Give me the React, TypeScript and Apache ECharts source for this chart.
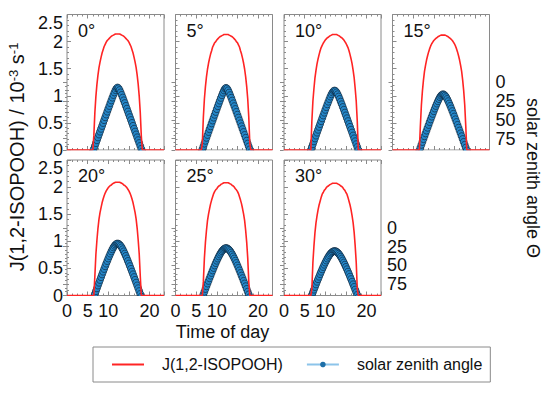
import React, { useEffect, useRef } from 'react';
import * as echarts from 'echarts';

const FONT = '"Liberation Sans", Arial, Helvetica, sans-serif';
const AXIS_GRAY = '#8a8a8a';
const RED = '#ff2424';
const BLUE = '#2587c9';

const J_NAME = 'J(1,2-ISOPOOH)';
const SZA_NAME = 'solar zenith angle';

const PANEL_LABELS = ['0°', '5°', '10°', '15°', '20°', '25°', '30°'];
const X_TICK_LABELS = [0, 5, 10, 20];

const J_HOURS = [0, 6, 6.25, 6.5, 6.75, 7, 7.25, 7.5, 7.75, 8, 8.25, 8.5, 8.75, 9, 9.25, 9.5, 9.75, 10, 10.25, 10.5, 10.75, 11, 11.25, 11.5, 11.75, 12, 12.25, 12.5, 12.75, 13, 13.25, 13.5, 13.75, 14, 14.25, 14.5, 14.75, 15, 15.25, 15.5, 15.75, 16, 16.25, 16.5, 16.75, 17, 17.25, 17.5, 17.75, 18, 18.25, 18.5, 23.5];
const HOURS = [6, 6.25, 6.5, 6.75, 7, 7.25, 7.5, 7.75, 8, 8.25, 8.5, 8.75, 9, 9.25, 9.5, 9.75, 10, 10.25, 10.5, 10.75, 11, 11.25, 11.5, 11.75, 12, 12.25, 12.5, 12.75, 13, 13.25, 13.5, 13.75, 14, 14.25, 14.5, 14.75, 15, 15.25, 15.5, 15.75, 16, 16.25, 16.5, 16.75, 17, 17.25, 17.5, 17.75, 18, 18.25, 18.5];

// J(1,2-ISOPOOH) in 10^-3 s^-1
const J_0 = [0, 0, 0, 0.26, 0.69, 0.99, 1.21, 1.38, 1.52, 1.62, 1.71, 1.79, 1.85, 1.91, 1.95, 1.99, 2.02, 2.04, 2.06, 2.08, 2.10, 2.11, 2.12, 2.13, 2.14, 2.14, 2.14, 2.14, 2.14, 2.13, 2.12, 2.11, 2.10, 2.08, 2.06, 2.04, 2.02, 1.99, 1.95, 1.91, 1.85, 1.79, 1.71, 1.62, 1.52, 1.38, 1.21, 0.99, 0.69, 0.26, 0, 0, 0];
const J_5 = [0, 0, 0, 0.12, 0.61, 0.94, 1.17, 1.35, 1.49, 1.60, 1.69, 1.77, 1.83, 1.90, 1.94, 1.98, 2.00, 2.03, 2.05, 2.07, 2.09, 2.10, 2.11, 2.12, 2.13, 2.13, 2.13, 2.13, 2.13, 2.12, 2.11, 2.10, 2.09, 2.07, 2.05, 2.03, 2.00, 1.98, 1.94, 1.90, 1.83, 1.77, 1.69, 1.60, 1.49, 1.35, 1.17, 0.94, 0.61, 0.12, 0, 0, 0];
const J_10 = [0, 0, 0, 0, 0.53, 0.90, 1.13, 1.33, 1.47, 1.59, 1.68, 1.76, 1.83, 1.89, 1.93, 1.97, 2.00, 2.03, 2.05, 2.07, 2.08, 2.10, 2.11, 2.12, 2.13, 2.13, 2.13, 2.13, 2.13, 2.12, 2.11, 2.10, 2.08, 2.07, 2.05, 2.03, 2.00, 1.97, 1.93, 1.89, 1.83, 1.76, 1.68, 1.59, 1.47, 1.33, 1.13, 0.90, 0.53, 0, 0, 0, 0];
const J_15 = [0, 0, 0, 0, 0.44, 0.83, 1.09, 1.29, 1.45, 1.56, 1.66, 1.74, 1.81, 1.87, 1.92, 1.96, 1.99, 2.02, 2.04, 2.06, 2.07, 2.09, 2.10, 2.11, 2.12, 2.12, 2.12, 2.12, 2.12, 2.11, 2.10, 2.09, 2.07, 2.06, 2.04, 2.02, 1.99, 1.96, 1.92, 1.87, 1.81, 1.74, 1.66, 1.56, 1.45, 1.29, 1.09, 0.83, 0.44, 0, 0, 0, 0];
const J_20 = [0, 0, 0, 0, 0.36, 0.76, 1.02, 1.24, 1.41, 1.53, 1.62, 1.71, 1.78, 1.84, 1.89, 1.93, 1.96, 1.99, 2.01, 2.03, 2.04, 2.06, 2.07, 2.08, 2.09, 2.09, 2.09, 2.09, 2.09, 2.08, 2.07, 2.06, 2.04, 2.03, 2.01, 1.99, 1.96, 1.93, 1.89, 1.84, 1.78, 1.71, 1.62, 1.53, 1.41, 1.24, 1.02, 0.76, 0.36, 0, 0, 0, 0];
const J_25 = [0, 0, 0, 0, 0.26, 0.69, 0.98, 1.20, 1.38, 1.50, 1.60, 1.69, 1.76, 1.82, 1.88, 1.92, 1.95, 1.97, 2.00, 2.02, 2.03, 2.05, 2.06, 2.07, 2.08, 2.08, 2.08, 2.08, 2.08, 2.07, 2.06, 2.05, 2.03, 2.02, 2.00, 1.97, 1.95, 1.92, 1.88, 1.82, 1.76, 1.69, 1.60, 1.50, 1.38, 1.20, 0.98, 0.69, 0.26, 0, 0, 0, 0];
const J_30 = [0, 0, 0, 0, 0.12, 0.61, 0.91, 1.16, 1.34, 1.47, 1.58, 1.67, 1.74, 1.81, 1.87, 1.90, 1.94, 1.96, 1.99, 2.01, 2.02, 2.04, 2.05, 2.06, 2.07, 2.07, 2.07, 2.07, 2.07, 2.06, 2.05, 2.04, 2.02, 2.01, 1.99, 1.96, 1.94, 1.90, 1.87, 1.81, 1.74, 1.67, 1.58, 1.47, 1.34, 1.16, 0.91, 0.61, 0.12, 0, 0, 0, 0];

// solar zenith angle (deg), on the HOURS grid
const SZA_0 = [null, 92.3, 88.5, 84.7, 80.8, 77.0, 73.2, 69.4, 65.6, 61.8, 58.0, 54.1, 50.3, 46.5, 42.8, 39.0, 35.2, 31.5, 27.7, 24.1, 20.4, 16.9, 13.5, 10.4, 8.0, 7.0, 8.0, 10.4, 13.5, 16.9, 20.4, 24.1, 27.7, 31.5, 35.2, 39.0, 42.8, 46.5, 50.3, 54.1, 58.0, 61.8, 65.6, 69.4, 73.2, 77.0, 80.8, 84.7, 88.5, 92.3, null];
const SZA_5 = [null, 93.1, 89.2, 85.4, 81.5, 77.7, 73.8, 70.0, 66.1, 62.3, 58.5, 54.6, 50.8, 47.0, 43.2, 39.4, 35.6, 31.8, 28.1, 24.4, 20.7, 17.2, 13.8, 10.8, 8.4, 7.5, 8.4, 10.8, 13.8, 17.2, 20.7, 24.4, 28.1, 31.8, 35.6, 39.4, 43.2, 47.0, 50.8, 54.6, 58.5, 62.3, 66.1, 70.0, 73.8, 77.7, 81.5, 85.4, 89.2, 93.1, null];
const SZA_10 = [null, 93.8, 90.0, 86.1, 82.3, 78.4, 74.6, 70.8, 66.9, 63.1, 59.3, 55.5, 51.7, 47.9, 44.1, 40.4, 36.6, 33.0, 29.3, 25.8, 22.3, 19.0, 16.0, 13.5, 11.7, 11.0, 11.7, 13.5, 16.0, 19.0, 22.3, 25.8, 29.3, 33.0, 36.6, 40.4, 44.1, 47.9, 51.7, 55.5, 59.3, 63.1, 66.9, 70.8, 74.6, 78.4, 82.3, 86.1, 90.0, 93.8, null];
const SZA_15 = [null, null, 90.7, 86.9, 83.1, 79.3, 75.5, 71.7, 67.9, 64.2, 60.4, 56.7, 52.9, 49.3, 45.6, 42.0, 38.4, 34.9, 31.5, 28.3, 25.2, 22.3, 19.8, 17.8, 16.5, 16.0, 16.5, 17.8, 19.8, 22.3, 25.2, 28.3, 31.5, 34.9, 38.4, 42.0, 45.6, 49.3, 52.9, 56.7, 60.4, 64.2, 67.9, 71.7, 75.5, 79.3, 83.1, 86.9, 90.7, null, null];
const SZA_20 = [null, null, 91.7, 88.0, 84.2, 80.4, 76.7, 73.0, 69.3, 65.6, 61.9, 58.3, 54.7, 51.1, 47.6, 44.2, 40.8, 37.5, 34.4, 31.4, 28.6, 26.1, 24.0, 22.4, 21.4, 21.0, 21.4, 22.4, 24.0, 26.1, 28.6, 31.4, 34.4, 37.5, 40.8, 44.2, 47.6, 51.1, 54.7, 58.3, 61.9, 65.6, 69.3, 73.0, 76.7, 80.4, 84.2, 88.0, 91.7, null, null];
const SZA_25 = [null, null, 92.3, 88.6, 85.0, 81.3, 77.7, 74.1, 70.6, 67.0, 63.6, 60.1, 56.7, 53.4, 50.1, 46.9, 43.8, 40.9, 38.1, 35.5, 33.1, 31.1, 29.4, 28.1, 27.3, 27.0, 27.3, 28.1, 29.4, 31.1, 33.1, 35.5, 38.1, 40.9, 43.8, 46.9, 50.1, 53.4, 56.7, 60.1, 63.6, 67.0, 70.6, 74.1, 77.7, 81.3, 85.0, 88.6, 92.3, null, null];
const SZA_30 = [null, null, 92.8, 89.3, 85.7, 82.2, 78.7, 75.2, 71.7, 68.3, 65.0, 61.6, 58.4, 55.2, 52.1, 49.1, 46.2, 43.5, 40.9, 38.5, 36.4, 34.5, 33.0, 31.9, 31.2, 31.0, 31.2, 31.9, 33.0, 34.5, 36.4, 38.5, 40.9, 43.5, 46.2, 49.1, 52.1, 55.2, 58.4, 61.6, 65.0, 68.3, 71.7, 75.2, 78.7, 82.2, 85.7, 89.3, 92.8, null, null];

const J_SERIES = [J_0, J_5, J_10, J_15, J_20, J_25, J_30];
const SZA_SERIES = [SZA_0, SZA_5, SZA_10, SZA_15, SZA_20, SZA_25, SZA_30];

const COL_X = [67, 175.5, 284, 392.5];
const ROW_Y = [14.5, 160];
const PW = 97;
const PH = 135.5;

function panelPos(i: number) {
  const row = i < 4 ? 0 : 1;
  const col = i < 4 ? i : i - 4;
  return { left: COL_X[col], top: ROW_Y[row], row, col };
}

function buildOption() {
  const grid: any[] = [];
  const xAxis: any[] = [];
  const yAxis: any[] = [];
  const series: any[] = [];
  const graphic: any[] = [];

  const tick = { show: true, inside: true, length: 4, lineStyle: { color: AXIS_GRAY, width: 1 } };
  const minor = (n: number) => ({ show: true, splitNumber: n, length: 2, lineStyle: { color: AXIS_GRAY, width: 1 } });
  const lbl = { fontSize: 18, color: '#111', fontFamily: FONT };

  PANEL_LABELS.forEach((label, i) => {
    const { left, top, row, col } = panelPos(i);
    grid.push({ left, top, width: PW, height: PH, show: true, borderColor: AXIS_GRAY, borderWidth: 1, backgroundColor: 'transparent', containLabel: false, outerBoundsMode: 'none' });
    grid.push({ left, top: top + PH / 2, width: PW, height: PH / 2, show: false, containLabel: false, outerBoundsMode: 'none' });

    xAxis.push({
      gridIndex: 2 * i, type: 'value', min: 0, max: 23.5, interval: 5, position: 'bottom',
      axisLine: { show: false }, splitLine: { show: false }, axisTick: tick, minorTick: minor(4),
      axisLabel: {
        ...lbl, show: row === 1, margin: 6, showMaxLabel: false,
        formatter: (v: number) => (X_TICK_LABELS.includes(v) ? String(v) : ''),
      },
    });
    xAxis.push({
      gridIndex: 2 * i, type: 'value', min: 0, max: 23.5, interval: 5, position: 'top',
      axisLine: { show: false }, splitLine: { show: false }, axisTick: tick, minorTick: minor(4),
      axisLabel: { show: false },
    });
    xAxis.push({ gridIndex: 2 * i + 1, type: 'value', min: 0, max: 23.5, show: false });

    yAxis.push({
      gridIndex: 2 * i, type: 'value', min: 0, max: 2.5, interval: 0.5, position: 'left',
      axisLine: { show: false }, splitLine: { show: false }, axisTick: tick, minorTick: minor(5),
      axisLabel: {
        ...lbl, lineHeight: 16, show: col === 0, margin: 4, showMaxLabel: true,
        verticalAlignMaxLabel: 'top',
      },
    });
    yAxis.push({
      gridIndex: 2 * i + 1, type: 'value', min: 0, max: 90, interval: 25, inverse: true, position: 'right',
      axisLine: { show: false }, splitLine: { show: false }, axisTick: tick, minorTick: minor(5),
      axisLabel: { ...lbl, show: i === 3 || i === 6, margin: 6, showMaxLabel: false },
    });

    series.push({
      type: 'line', name: J_NAME, xAxisIndex: 3 * i, yAxisIndex: 2 * i,
      data: J_HOURS.map((t, k) => [t, J_SERIES[i][k]]),
      symbol: 'none', showSymbol: false,
      lineStyle: { color: RED, width: 1.6 }, itemStyle: { color: RED }, z: 4,
    });
    series.push({
      type: 'line', name: SZA_NAME, xAxisIndex: 3 * i + 2, yAxisIndex: 2 * i + 1,
      data: HOURS.map((t, k) => [t, SZA_SERIES[i][k]]).filter((d) => d[1] !== null),
      symbol: 'circle', symbolSize: 7, showSymbol: true, clip: false,
      lineStyle: { color: '#8cc4ea', width: 1 },
      itemStyle: { color: BLUE, borderColor: '#0a1a2a', borderWidth: 0.6 }, z: 3,
    });

    graphic.push({
      type: 'rect', z: 50, silent: true,
      shape: { x: left - 0.5, y: top + PH + 0.6, width: PW + 1, height: 7 },
      style: { fill: '#ffffff' },
    });
    graphic.push({
      type: 'text', z: 60, x: left + 11, y: top + 16,
      style: { text: label, fontSize: 18, fontFamily: FONT, fill: '#111', align: 'left', verticalAlign: 'middle' },
    });
  });

  graphic.push({
    type: 'text', z: 60, x: 17, y: 157, rotation: Math.PI / 2,
    style: {
      text: 'J(1,2-ISOPOOH) / 10{sup|-3} s{sup|-1}',
      fontSize: 20, fontFamily: FONT, fill: '#111', align: 'center', verticalAlign: 'middle',
      rich: { sup: { fontSize: 13, fontFamily: FONT, fill: '#111', verticalAlign: 'top', padding: [0, 0, 8, 0] } },
    },
  });
  graphic.push({
    type: 'text', z: 60, x: 533, y: 178, rotation: -Math.PI / 2,
    style: { text: 'solar zenith angle Θ', fontSize: 18, fontFamily: FONT, fill: '#111', align: 'center', verticalAlign: 'middle' },
  });
  graphic.push({
    type: 'text', z: 60, x: 222.5, y: 332,
    style: { text: 'Time of day', fontSize: 18, fontFamily: FONT, fill: '#111', align: 'center', verticalAlign: 'middle' },
  });

  return {
    animation: false,
    backgroundColor: '#ffffff',
    grid, xAxis, yAxis, series, graphic,
    legend: {
      data: [
        { name: J_NAME, itemStyle: { opacity: 0 } },
        { name: SZA_NAME, itemStyle: { color: '#1d6fa8', borderWidth: 0 } },
      ],
      left: 93, top: 347, orient: 'horizontal',
      padding: [9, 8, 9, 18], itemGap: 23, itemWidth: 32, itemHeight: 7,
      borderColor: AXIS_GRAY, borderWidth: 1, selectedMode: false,
      textStyle: { fontSize: 16, fontFamily: FONT, color: '#111', padding: [0, 0, 0, 13], lineHeight: 17 },
    },
  };
}

export default function App() {
  const ref = useRef<HTMLDivElement>(null);
  useEffect(() => {
    if (!ref.current) return;
    const chart = echarts.init(ref.current, undefined, { renderer: 'svg' });
    chart.setOption(buildOption() as any);
    return () => chart.dispose();
  }, []);
  return <div ref={ref} style={{ position: 'fixed', left: 0, top: 0, width: 550, height: 394 }} />;
}
